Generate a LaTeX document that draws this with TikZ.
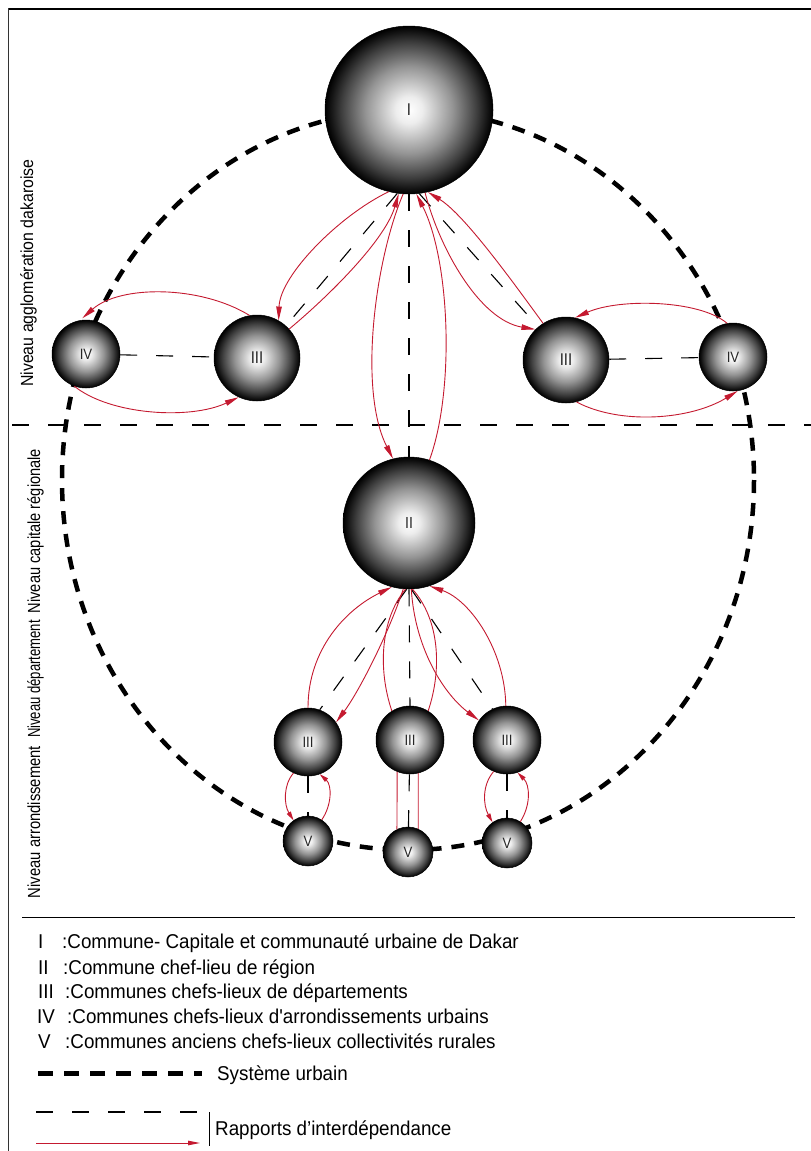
\documentclass[tikz,border=0pt]{standalone}
\usepackage{fontspec}
\setmainfont{Liberation Sans}
\newfontfamily\narrowfont{Liberation Sans}[FakeStretch=0.88]
\newfontfamily\legfont{Liberation Sans}[FakeStretch=0.94]
\usetikzlibrary{arrows.meta}
\pgfdeclareradialshading{ballshade}{\pgfpoint{0bp}{0bp}}{color(0bp)=(white); color(4bp)=(white!93!black); color(13bp)=(black!42); color(20bp)=(black!75); color(23.5bp)=(black!93); color(25bp)=(black); color(50bp)=(black)}
\definecolor{arrred}{RGB}{196,26,48}
\pgfdeclarelayer{bg}
\pgfsetlayers{bg,main}
\begin{document}
\begin{tikzpicture}[x=1pt,y=-1pt,
  sphere/.style={circle, draw=black, line width=0.5pt, shade, shading=ballshade, inner sep=0pt, minimum size=#1, font=\narrowfont\fontsize{15}{15}\selectfont, text=black!85},
  sysline/.style={line width=4.5pt, dash pattern=on 13pt off 10pt},
  link/.style={line width=1.1pt, dash pattern=on 17pt off 19pt},
  rel/.style={draw=arrred, line width=0.9pt, -{Triangle[length=14pt,width=5.5pt]}},
  relsmall/.style={draw=arrred, line width=0.9pt, -{Triangle[length=9pt,width=4.5pt]}},
  relline/.style={draw=arrred, line width=0.9pt},
  legtxt/.style={anchor=base west, inner sep=0pt, font=\legfont\fontsize{20}{24}\selectfont},
  lvl/.style={rotate=90, anchor=base, inner sep=0pt, font=\narrowfont\fontsize{17.5}{20}\selectfont}
]
\path[use as bounding box] (0,0) rectangle (811,1151);

% frame
\draw[line width=2pt] (8,8.5) -- (811,8.5);
\draw[line width=1pt, black!80] (8.5,8) -- (8.5,1151);
\draw[line width=1pt] (22,917) -- (795,917);

% nodes
\node[sphere=168pt, font=\narrowfont\fontsize{17}{17}\selectfont] (I) at (409,110) {I};
\node[sphere=68pt] (IVa) at (86,354) {IV};
\node[sphere=86pt, font=\narrowfont\fontsize{17}{17}\selectfont] (IIIa) at (257,358) {III};
\node[sphere=86pt, font=\narrowfont\fontsize{17}{17}\selectfont] (IIIb) at (566,360) {III};
\node[sphere=68pt] (IVb) at (733,357) {IV};
\node[sphere=132pt, font=\narrowfont\fontsize{16}{16}\selectfont] (II) at (409,523) {II};
\node[sphere=68pt] (IIIc) at (308,742) {III};
\node[sphere=68pt] (IIId) at (410,740) {III};
\node[sphere=68pt] (IIIe) at (507,740) {III};
\node[sphere=50pt] (Vl) at (308,841) {V};
\node[sphere=50pt] (Vm) at (408,852) {V};
\node[sphere=50pt] (Vr) at (507,843) {V};

\begin{pgfonlayer}{bg}
\draw[sysline] (408,480) ellipse [x radius=346, y radius=370];
\draw[line width=1.1pt, dash pattern=on 17pt off 19pt] (12,425) -- (811,425);
\end{pgfonlayer}

% level labels
\node[lvl] (lvA) at (33,273) {\scalebox{1.03}[1]{Niveau agglomération dakaroise}};
\node[lvl] (lvB) at (40,531) {\scalebox{0.95}[1]{Niveau capitale régionale}};
\node[lvl] (lvC) at (40,679) {\scalebox{0.85}[1]{Niveau département}};
\node[lvl] (lvD) at (40,822) {\scalebox{0.96}[1]{Niveau arrondissement}};

% black dashed links
\draw[link] (I.270) -- (II.90);
\draw[link] (I.262) -- (IIIa.48);
\draw[link] (I.277) -- (IIIb.130);
\draw[link] (IVa) -- (IIIa);
\draw[link] (IIIb) -- (IVb);
\draw[link] (II.268) -- (IIIc.70);
\draw[link] (II.270) -- (IIId.90);
\draw[link] (II.272) -- (IIIe.115);
\draw[link] (IIIc) -- (Vl);
\draw[link] (IIId) -- (Vm);
\draw[link] (IIIe) -- (Vr);

% red relations, top
\draw[rel] (I.256) .. controls (340,215) and (280,275) .. (IIIa.60);
\draw[rel] (IIIa.42) .. controls (330,295) and (385,240) .. (I.263);
\draw[rel] (I.266) .. controls (375,260) and (358,390) .. (II.104);
\draw[rel] (II.72) .. controls (455,390) and (450,260) .. (I.275);
\draw[rel] (I.281) .. controls (440,250) and (480,320) .. (IIIb.135);
\draw[rel] (IIIb.122) .. controls (515,285) and (465,215) .. (I.283);
\draw[rel, shorten >=3pt] (IIIa.100) .. controls (200,285) and (120,285) .. (IVa.100);
\draw[rel] (IVa.250) .. controls (110,415) and (190,420) .. (IIIa.245);
\draw[rel] (IVb.100) .. controls (700,300) and (620,298) .. (IIIb.78);
\draw[rel] (IIIb.284) .. controls (620,425) and (690,420) .. (IVb.278);

% red relations, bottom
\draw[rel] (IIIc.90) .. controls (308,650) and (345,610) .. (II.255);
\draw[rel] (II.265) .. controls (390,630) and (360,690) .. (IIIc.35);
\draw[relline] (IIId.122) .. controls (378,670) and (380,620) .. (II.267);
\draw[relline] (IIId.58) .. controls (442,670) and (440,620) .. (II.273);
\draw[rel] (II.272) .. controls (415,650) and (445,695) .. (IIIe.145);
\draw[rel] (IIIe.92) .. controls (505,650) and (470,600) .. (II.288);

\draw[relsmall] (IIIc.245) .. controls (283,785) and (284,805) .. (Vl.125);
\draw[relsmall] (Vl.57) .. controls (332,805) and (332,785) .. (IIIc.290);
\draw[relline] (IIId.248) -- (Vm.116);
\draw[relline] (IIId.284) -- (Vm.66);
\draw[relsmall] (IIIe.247) .. controls (482,785) and (483,805) .. (Vr.125);
\draw[relsmall] (Vr.58) .. controls (531,805) and (530,785) .. (IIIe.288);

% legend
\node[legtxt] (n1) at (38,948) {I};
\node[legtxt] (t1) at (62,948) {:Commune- Capitale et communauté urbaine de Dakar};
\node[legtxt] (n2) at (38,974) {II};
\node[legtxt] (t2) at (63,974) {:Commune chef-lieu de région};
\node[legtxt] (n3) at (38,998) {III};
\node[legtxt] (t3) at (65,998) {:Communes chefs-lieux de départements};
\node[legtxt] (n4) at (37,1023) {IV};
\node[legtxt] (t4) at (67,1023) {:Communes chefs-lieux d'arrondissements urbains};
\node[legtxt] (n5) at (38,1048) {V};
\node[legtxt] (t5) at (65,1048) {:Communes anciens chefs-lieux collectivités rurales};

\coordinate (s1) at (38,1073);
\coordinate (s2) at (202,1073);
\draw[line width=5pt, dash pattern=on 15pt off 11pt] (s1) -- (s2);
\node[legtxt] (t6) at (217,1080) {Système urbain};

\coordinate (d1) at (36,1112);
\coordinate (d2) at (200,1112);
\draw[link] (d1) -- (d2);
\coordinate (r1) at (36,1143);
\coordinate (r2) at (200,1143);
\draw[draw=arrred, line width=0.9pt, -{Triangle[length=12pt,width=4.5pt]}] (r1) -- (r2);
\coordinate (b1) at (209,1112);
\coordinate (b2) at (209,1146);
\draw[line width=1pt] (b1) -- (b2);
\node[legtxt] (t7) at (215,1135) {Rapports d’interdépendance};
\end{tikzpicture}
\end{document}
